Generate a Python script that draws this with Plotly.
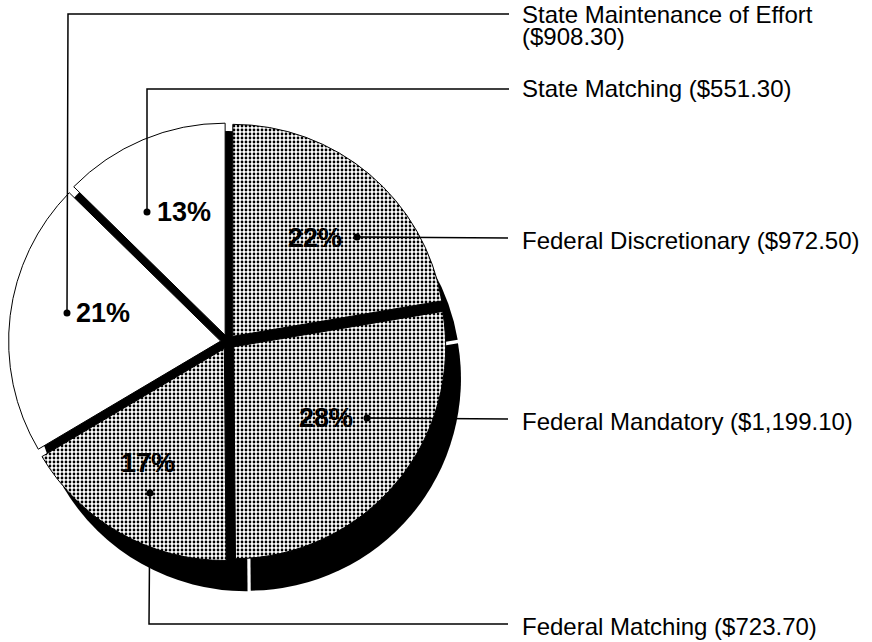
import plotly.graph_objects as go

# ---- data ----
categories = ["Federal Discretionary", "Federal Mandatory", "Federal Matching",
              "State Maintenance of Effort", "State Matching"]
values = [972.50, 1199.10, 723.70, 908.30, 551.30]
pct_labels = ["22%", "28%", "17%", "21%", "13%"]

# ---- styling ----
W, H = 872, 642
FONT = "Liberation Sans, Arial, sans-serif"
pattern_shapes = [".", ".", ".", "", ""]
pull = [0.035] * 5
shadow_pull = [0.012] * 5

def px(x):
    return x / W

def py(y):
    return 1 - y / H

# pie geometry (pixels)
cx, cy, r = 228, 342, 212
half = r * (1 + max(pull))
shalf = r * (1 + max(shadow_pull))
sdx, sdy = 19, 35  # shadow offset

fig = go.Figure()

# shadow (black, offset down-right)
fig.add_trace(go.Pie(
    values=values, labels=categories, sort=False, direction="clockwise", rotation=0,
    pull=shadow_pull, textinfo="none", hoverinfo="skip", showlegend=False,
    marker=dict(colors=["black"] * 5, line=dict(color="black", width=0)),
    domain=dict(x=[px(cx + sdx - shalf), px(cx + sdx + shalf)],
                y=[py(cy + sdy + shalf), py(cy + sdy - shalf)]),
))

# black base disk that shows through the gaps between exploded slices
rb = r - 1
fig.add_trace(go.Pie(
    values=[sum(values)], labels=["base"], sort=False, textinfo="none",
    hoverinfo="skip", showlegend=False,
    marker=dict(colors=["black"], line=dict(color="black", width=0)),
    domain=dict(x=[px(cx - rb), px(cx + rb)], y=[py(cy + rb), py(cy - rb)]),
))

# main pie
fig.add_trace(go.Pie(
    values=values, labels=categories, sort=False, direction="clockwise", rotation=0,
    pull=pull, textinfo="none", hoverinfo="skip", showlegend=False,
    marker=dict(colors=["white"] * 5, line=dict(color="black", width=1),
                pattern=dict(shape=pattern_shapes, fgcolor="black", bgcolor="white",
                             size=4, solidity=0.38)),
    domain=dict(x=[px(cx - half), px(cx + half)],
                y=[py(cy + half), py(cy - half)]),
))

# ---- label layout (pixel positions of dots, leader paths, texts) ----
label_layout = {
    "Federal Discretionary": dict(dot=(357, 237), path=[(357, 237), (508, 238)],
                                  pct=(344, 238, "right"), text_y=[240]),
    "Federal Mandatory": dict(dot=(367, 418), path=[(367, 418), (508, 419)],
                              pct=(355, 418, "right"), text_y=[421]),
    "Federal Matching": dict(dot=(150, 493), path=[(150, 493), (149, 624), (508, 624)],
                             pct=(148, 463, "center"), text_y=[626]),
    "State Maintenance of Effort": dict(dot=(67, 313), path=[(67, 313), (68, 14), (509, 14)],
                                        pct=(74, 313, "left"), text_y=[14, 37]),
    "State Matching": dict(dot=(147, 212), path=[(147, 212), (147, 89), (509, 89)],
                           pct=(155, 212, "left"), text_y=[89]),
}
TEXT_X = 520

shapes = []
annotations = []
for cat, val, pct in zip(categories, values, pct_labels):
    L = label_layout[cat]
    pts = L["path"]
    d = "M " + " L ".join(f"{px(x)},{py(y)}" for x, y in pts)
    shapes.append(dict(type="path", path=d, xref="paper", yref="paper",
                       line=dict(color="black", width=1.5)))
    dx, dy = L["dot"]
    rr = 3.5
    shapes.append(dict(type="circle", xref="paper", yref="paper",
                       x0=px(dx - rr), x1=px(dx + rr), y0=py(dy + rr), y1=py(dy - rr),
                       fillcolor="black", line=dict(color="black", width=0)))
    tx, ty, anc = L["pct"]
    annotations.append(dict(x=px(tx), y=py(ty), xref="paper", yref="paper", text=f"<b>{pct}</b>",
                            showarrow=False, xanchor=anc, yanchor="middle",
                            font=dict(family=FONT, size=27, color="black")))
    if len(L["text_y"]) == 2:
        lines = [cat, f"(${val:,.2f})"]
    else:
        lines = [f"{cat} (${val:,.2f})"]
    for line, yy in zip(lines, L["text_y"]):
        annotations.append(dict(x=px(TEXT_X), y=py(yy), xref="paper", yref="paper", text=line,
                                showarrow=False, xanchor="left", yanchor="middle",
                                font=dict(family=FONT, size=24, color="black")))

fig.update_layout(
    width=W, height=H, margin=dict(l=0, r=0, t=0, b=0),
    paper_bgcolor="white", plot_bgcolor="white",
    shapes=shapes, annotations=annotations, showlegend=False,
)

fig.write_html("out.html", config={"displayModeBar": False},
               post_script="document.body.style.margin='0px';")
